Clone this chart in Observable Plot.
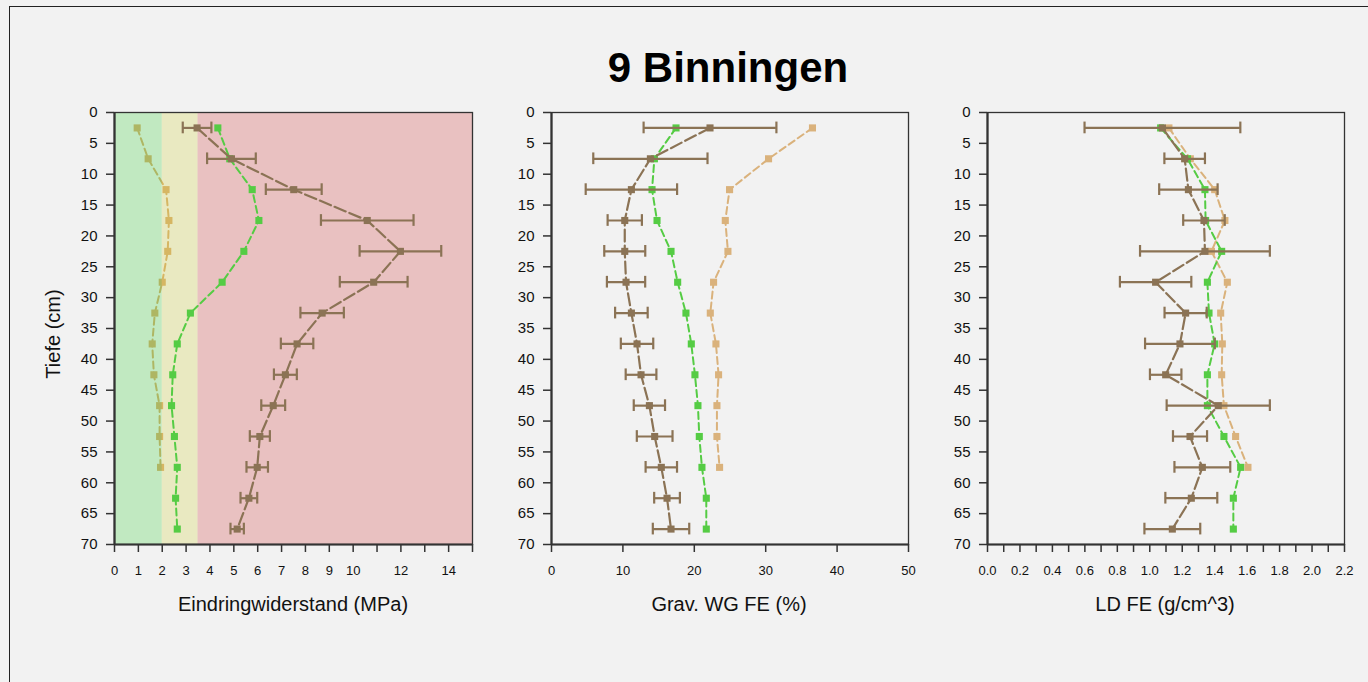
<!DOCTYPE html>
<html>
<head>
<meta charset="utf-8">
<script src="https://cdn.jsdelivr.net/npm/d3@7"></script>
<script src="https://cdn.jsdelivr.net/npm/@observablehq/plot@0.6"></script>
<style>
  html, body { margin: 0; padding: 0; background: #f2f2f2; width: 1368px; height: 682px; overflow: hidden; }
  body { position: relative; font-family: "Liberation Sans", Arial, sans-serif; }
  #overlay { position: absolute; left: 0; top: 0; }
  .panel { position: absolute; }
  .panel svg { overflow: visible; }
</style>
</head>
<body>
<svg id="overlay" width="1368" height="682"></svg>
<div id="p1" class="panel"></div>
<div id="p2" class="panel"></div>
<div id="p3" class="panel"></div>
<script>
// ---------- data ----------
const title = "9 Binningen";
const yLabel = "Tiefe (cm)";
const depth = [2.5, 7.5, 12.5, 17.5, 22.5, 27.5, 32.5, 37.5, 42.5, 47.5, 52.5, 57.5, 62.5, 67.5];
const yTicks = [0, 5, 10, 15, 20, 25, 30, 35, 40, 45, 50, 55, 60, 65, 70];

// Panel 1: Eindringwiderstand (MPa)
const ewLabel = "Eindringwiderstand (MPa)";
const ewTicks = [0, 1, 2, 3, 4, 5, 6, 7, 8, 9, 10, 11, 12, 13, 14, 15];
const ewTickLabels = [0, 1, 2, 3, 4, 5, 6, 7, 8, 9, 10, 12, 14];
const ewBrown = [3.46, 4.90, 7.51, 10.59, 11.98, 10.86, 8.70, 7.65, 7.16, 6.65, 6.09, 5.98, 5.63, 5.14];
const ewBrownErr = [0.60, 1.02, 1.17, 1.94, 1.71, 1.42, 0.91, 0.68, 0.48, 0.50, 0.42, 0.45, 0.35, 0.28];
const ewGreen = [4.33, 4.83, 5.77, 6.05, 5.42, 4.51, 3.18, 2.63, 2.44, 2.39, 2.51, 2.63, 2.56, 2.63];
const ewTan = [0.95, 1.41, 2.16, 2.28, 2.23, 2.00, 1.69, 1.58, 1.65, 1.89, 1.89, 1.93];
const bandFrom = [0, 2, 3.5];
const bandTo = [2, 3.5, 15];
const bandColor = ["#00c800", "#c8c800", "#c80000"];

// Panel 2: Grav. WG FE (%)
const wgLabel = "Grav. WG FE (%)";
const wgTicks = [0, 10, 20, 30, 40, 50];
const wgBrown = [22.2, 13.85, 11.19, 10.26, 10.26, 10.44, 11.19, 11.98, 12.54, 13.71, 14.45, 15.38, 16.18, 16.74];
const wgBrownErr = [9.3, 8.0, 6.4, 2.4, 2.87, 2.68, 2.28, 2.27, 2.15, 2.19, 2.5, 2.2, 1.8, 2.55];
const wgGreen = [17.44, 14.41, 14.08, 14.78, 16.74, 17.67, 18.83, 19.58, 20.09, 20.51, 20.70, 21.07, 21.68, 21.68];
const wgTan = [36.55, 30.4, 24.94, 24.34, 24.71, 22.7, 22.24, 23.03, 23.4, 23.17, 23.17, 23.54];

// Panel 3: LD FE (g/cm^3)
const ldLabel = "LD FE (g/cm^3)";
const ldTicks = [0, 0.1, 0.2, 0.3, 0.4, 0.5, 0.6, 0.7, 0.8, 0.9, 1.0, 1.1, 1.2, 1.3, 1.4, 1.5, 1.6, 1.7, 1.8, 1.9, 2.0, 2.1, 2.2];
const ldTickLabels = ["0.0", "0.2", "0.4", "0.6", "0.8", "1.0", "1.2", "1.4", "1.6", "1.8", "2.0", "2.2"];
const ldBrown = [1.078, 1.215, 1.238, 1.334, 1.340, 1.036, 1.221, 1.186, 1.098, 1.422, 1.248, 1.324, 1.256, 1.139];
const ldBrownErr = [0.48, 0.125, 0.18, 0.128, 0.40, 0.22, 0.13, 0.215, 0.097, 0.318, 0.105, 0.172, 0.16, 0.172];
const ldGreen = [1.067, 1.232, 1.34, 1.344, 1.443, 1.355, 1.365, 1.40, 1.355, 1.355, 1.457, 1.56, 1.515, 1.515];
const ldTan = [1.118, 1.25, 1.40, 1.463, 1.38, 1.478, 1.437, 1.447, 1.443, 1.457, 1.529, 1.605];

// ---------- styles ----------
const BROWN = "#8b7355";
const GREEN = "#55cc44";
const TAN = "#dab27c";
const AXIS = "#333";

function panel(el, left, opts) {
  const { xDomain, xTicks, xTickFormat, brown, brownErr, green, tan, bands } = opts;
  const rows = depth.map((d, i) => ({ depth: d, brown: brown[i], lo: brown[i] - brownErr[i], hi: brown[i] + brownErr[i], green: green[i] }));
  const tanRows = tan.map((v, i) => ({ depth: depth[i], tan: v }));
  const marks = [
    Plot.line(tanRows, { x: "tan", y: "depth", stroke: TAN, strokeWidth: 2, strokeDasharray: "7,4" }),
    Plot.dot(tanRows, { x: "tan", y: "depth", symbol: "square", fill: TAN, r: 4 }),
  ];
  if (bands) {
    marks.push(Plot.rect(bands, { x1: "x1", x2: "x2", y1: 0, y2: 70, fill: "color", fillOpacity: 0.2 }));
  }
  marks.push(
    Plot.line(rows, { x: "green", y: "depth", stroke: GREEN, strokeWidth: 2, strokeDasharray: "7,4" }),
    Plot.dot(rows, { x: "green", y: "depth", symbol: "square", fill: GREEN, r: 4 }),
    Plot.line(rows, { x: "brown", y: "depth", stroke: BROWN, strokeWidth: 2.2, strokeDasharray: "12,4" }),
    Plot.ruleY(rows, { y: "depth", x1: "lo", x2: "hi", stroke: BROWN, strokeWidth: 2.2 }),
    Plot.ruleX(rows, { x: "lo", y1: d => d.depth - 0.95, y2: d => d.depth + 0.95, stroke: BROWN, strokeWidth: 2.2 }),
    Plot.ruleX(rows, { x: "hi", y1: d => d.depth - 0.95, y2: d => d.depth + 0.95, stroke: BROWN, strokeWidth: 2.2 }),
    Plot.dot(rows, { x: "brown", y: "depth", symbol: "square", fill: BROWN, r: 4 }),
    Plot.frame({ stroke: AXIS, strokeWidth: 1.3 }),
    Plot.ruleX([xDomain[0]], { stroke: AXIS, strokeWidth: 2.2 }),
    Plot.ruleY([70], { stroke: AXIS, strokeWidth: 2.2 }),
    Plot.axisY({ ticks: yTicks, tickSize: 8, tickPadding: 9, fontSize: 15, label: null, stroke: AXIS, strokeWidth: 1.5, fill: "#111" }),
    Plot.axisX({ ticks: xTicks, tickFormat: xTickFormat, tickSize: 8, tickPadding: 13, fontSize: 13, label: null, stroke: AXIS, strokeWidth: 1.5, fill: "#111" })
  );
  const chart = Plot.plot({
    width: 60 + (opts.plotWidth) + 10,
    height: 10 + 432 + 40,
    marginLeft: 60, marginRight: 10, marginTop: 10, marginBottom: 40,
    style: { background: "transparent", fontFamily: "'Liberation Sans', Arial, sans-serif", overflow: "visible" },
    x: { domain: xDomain, label: null },
    y: { domain: [0, 70], reverse: true, label: null },
    color: { type: "identity" },
    marks
  });
  el.style.left = (left - 60) + "px";
  el.style.top = (112 - 10) + "px";
  el.appendChild(chart);
}

const bands = bandFrom.map((f, i) => ({ x1: f, x2: bandTo[i], color: bandColor[i] }));

panel(document.getElementById("p1"), 114, {
  xDomain: [0, 15], xTicks: ewTicks,
  xTickFormat: d => ewTickLabels.includes(d) ? String(d) : "",
  brown: ewBrown, brownErr: ewBrownErr, green: ewGreen, tan: ewTan, bands, plotWidth: 358
});
panel(document.getElementById("p2"), 551, {
  xDomain: [0, 50], xTicks: wgTicks, xTickFormat: d => String(d),
  brown: wgBrown, brownErr: wgBrownErr, green: wgGreen, tan: wgTan, bands: null, plotWidth: 357
});
panel(document.getElementById("p3"), 987, {
  xDomain: [0, 2.2], xTicks: ldTicks,
  xTickFormat: d => { const s = d.toFixed(1); return ldTickLabels.includes(s) ? s : ""; },
  brown: ldBrown, brownErr: ldBrownErr, green: ldGreen, tan: ldTan, bands: null, plotWidth: 357
});

// ---------- overlay texts ----------
const ov = d3.select("#overlay");
ov.append("rect").attr("x", 9.5).attr("y", 6.5).attr("width", 1400).attr("height", 700)
  .attr("fill", "none").attr("stroke", "#222").attr("stroke-width", 1);
ov.append("text").attr("x", 728).attr("y", 82).attr("text-anchor", "middle")
  .attr("font-size", 42).attr("font-weight", "bold").attr("fill", "#000")
  .attr("font-family", "'Liberation Sans', Arial, sans-serif").text(title);
[[293, ewLabel], [729, wgLabel], [1165, ldLabel]].forEach(([x, t]) => {
  ov.append("text").attr("x", x).attr("y", 611).attr("text-anchor", "middle")
    .attr("font-size", 20).attr("fill", "#111")
    .attr("font-family", "'Liberation Sans', Arial, sans-serif").text(t);
});
ov.append("text").attr("transform", "translate(60,334) rotate(-90)").attr("text-anchor", "middle")
  .attr("font-size", 20).attr("fill", "#111")
  .attr("font-family", "'Liberation Sans', Arial, sans-serif").text(yLabel);
</script>
</body>
</html>
